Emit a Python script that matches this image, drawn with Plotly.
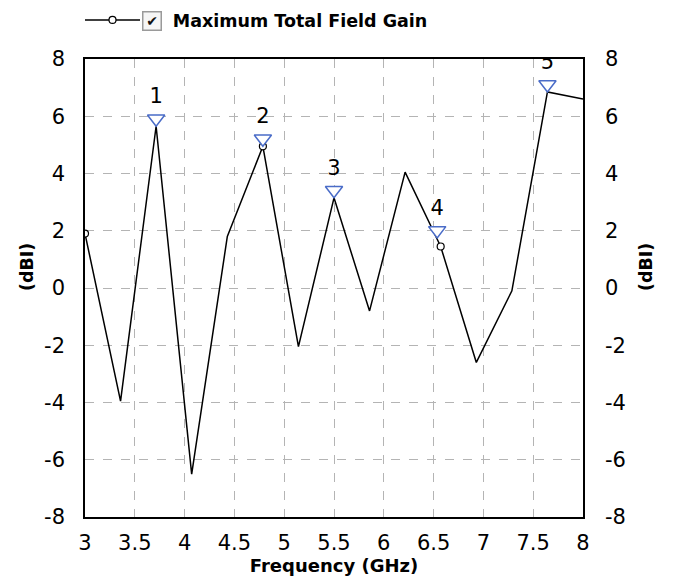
import plotly.graph_objects as go

# Data
freq_ghz = [3.0, 3.357, 3.714, 4.071, 4.429, 4.786, 5.143, 5.5, 5.857, 6.214,
            6.571, 6.929, 7.286, 7.643, 8.0]
gain_dbi = [1.9, -3.95, 5.65, -6.5, 1.8, 4.95, -2.05, 3.15, -0.8, 4.05,
            1.45, -2.6, -0.1, 6.85, 6.6]

marker_freq = [3.714, 4.786, 5.5, 6.536, 7.643]
marker_gain = [5.65, 4.95, 3.15, 1.75, 6.85]
marker_labels = ["1", "2", "3", "4", "5"]

y_ticks = [-8, -6, -4, -2, 0, 2, 4, 6, 8]
y_tick_labels = ["-8", "-6", "-4", "-2", "0", "2", "4", "6", "8"]
x_ticks = [3, 3.5, 4, 4.5, 5, 5.5, 6, 6.5, 7, 7.5, 8]
x_tick_labels = ["3", "3.5", "4", "4.5", "5", "5.5", "6", "6.5", "7", "7.5", "8"]

W, H = 674, 582
PAGE_OFF = 8  # default page margin of the html body
M = dict(l=85 - PAGE_OFF, r=W - (583 - PAGE_OFF), t=59 - PAGE_OFF, b=H - (517 - PAGE_OFF))
plot_w = W - M["l"] - M["r"]
plot_h = H - M["t"] - M["b"]
y_range = [-8, 8]
units_per_px = (y_range[1] - y_range[0]) / plot_h

FONT = "DejaVu Sans, Liberation Sans, Arial, sans-serif"
tri_size = 15
tri_offset = (tri_size / 2) * units_per_px  # so the triangle tip touches the point

fig = go.Figure()
fig.add_trace(go.Scatter(
    x=freq_ghz, y=gain_dbi, mode="lines+markers",
    name="\u00a0" * 5 + "<b>Maximum Total Field Gain</b>",
    line=dict(color="black", width=1.5),
    marker=dict(symbol="circle", size=7, color="white", maxdisplayed=3,
                line=dict(color="black", width=1.2)),
))
fig.add_trace(go.Scatter(
    x=marker_freq, y=[g + tri_offset for g in marker_gain],
    mode="markers+text", text=marker_labels, textposition="top center",
    textfont=dict(family=FONT, size=21, color="black"),
    marker=dict(symbol="triangle-down", size=tri_size, color="white",
                line=dict(color="#4a6cc8", width=1.5)),
    showlegend=False, hoverinfo="skip",
))
fig.add_trace(go.Scatter(
    x=[freq_ghz[0]], y=[gain_dbi[0]], yaxis="y2", mode="markers",
    marker=dict(size=0, opacity=0), showlegend=False, hoverinfo="skip",
))

axis_common = dict(
    showgrid=True, gridcolor="#b4b4b4", griddash="dash", gridwidth=1,
    showline=True, linecolor="black", linewidth=1.5,
    zeroline=False, ticks="", automargin=False,
    tickfont=dict(family=FONT, size=21, color="black"),
)
title_font = dict(family=FONT, size=17.5, color="black")

fig.update_layout(
    width=W, height=H, margin=M,
    paper_bgcolor="white", plot_bgcolor="white",
    font=dict(family=FONT, color="black"),
    xaxis=dict(axis_common, range=[3, 8], tickvals=x_ticks, ticktext=x_tick_labels,
               mirror=True, ticklabelstandoff=6,
               title=dict(text="<b>Frequency (GHz)</b>", font=dict(title_font, size=18),
                          standoff=2)),
    yaxis=dict(axis_common, range=y_range, tickvals=y_ticks, ticktext=y_tick_labels,
               mirror=True, ticklabelstandoff=14),
    yaxis2=dict(axis_common, range=y_range, tickvals=y_ticks, ticktext=y_tick_labels,
                overlaying="y", side="right", showgrid=False, ticklabelstandoff=16),
    legend=dict(orientation="h", x=-5 / plot_w, xanchor="left", itemwidth=55,
                yref="container", y=1 - (20 - PAGE_OFF) / H, yanchor="middle",
                font=dict(family=FONT, size=17.5, color="black"),
                bgcolor="rgba(0,0,0,0)"),
    showlegend=True,
)

# y-axis titles on both sides (slightly above the plot centre, as in the reference)
title_y = (517 - 267) / plot_h
for x_px in (27, 646):
    fig.add_annotation(
        xref="paper", yref="paper", x=(x_px - 85) / plot_w, y=title_y,
        xanchor="center", yanchor="middle", text="<b>(dBI)</b>", textangle=-90,
        showarrow=False, font=title_font,
    )

# checkbox of the legend entry
fig.add_annotation(
    xref="paper", yref="paper", x=(152 - 85) / plot_w, xanchor="center",
    y=1 + (59 - 21) / plot_h, yanchor="middle", text="<b>\u2714</b>", showarrow=False,
    font=dict(family="DejaVu Sans", size=14, color="#111"), width=15, height=15,
    bordercolor="#9a9a9a", borderwidth=1.5, bgcolor="#f6f6f6", borderpad=1,
)

fig.write_html("out.html")
